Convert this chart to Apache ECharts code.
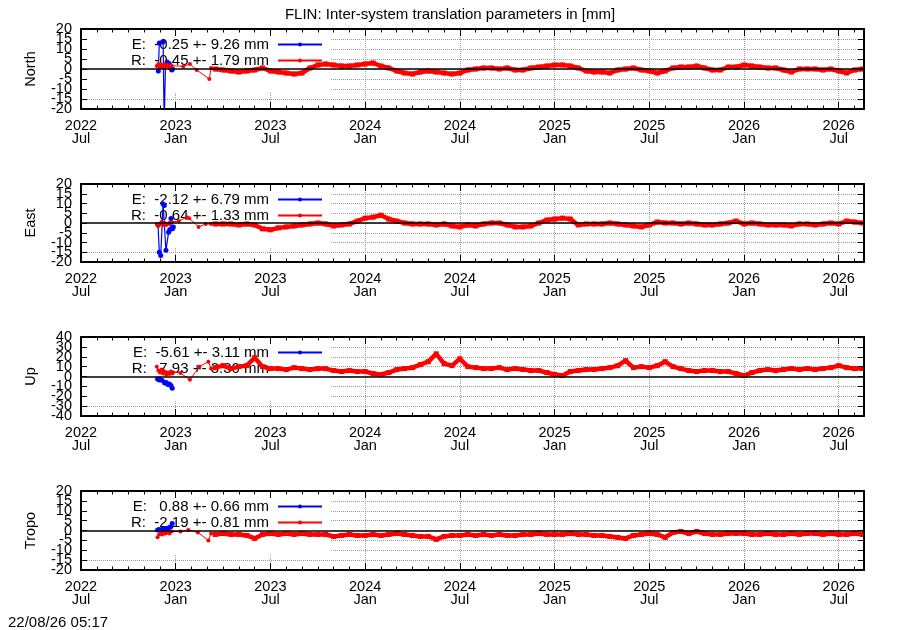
<!DOCTYPE html>
<html>
<head>
<meta charset="utf-8">
<title>FLIN inter-system translation parameters</title>
<script src="https://cdn.jsdelivr.net/npm/echarts@6/dist/echarts.min.js"></script>
<style>
html, body { margin: 0; padding: 0; background: #fff; }
#chart { width: 900px; height: 630px; }
</style>
</head>
<body>
<div id="chart"></div>
<script>
// x values are months counted from 2022-07-01
var xMax = 49.6;
var FONT = '"Liberation Sans", Arial, sans-serif';

var panelNames = ['North', 'East', 'Up', 'Tropo'];
var keyE = ['E:  -0.25 +- 9.26 mm', 'E:  -2.12 +- 6.79 mm', 'E:  -5.61 +- 3.11 mm', 'E:   0.88 +- 0.66 mm'];
var keyR = ['R:  -0.45 +- 1.79 mm', 'R:  -0.64 +- 1.33 mm', 'R:   7.93 +- 3.30 mm', 'R:  -2.19 +- 0.81 mm'];
var yLimit = [20, 20, 40, 20];
var yStep = [5, 5, 10, 5];

/* E solution (blue), only a few weeks at the start */
var northEX = [4.90, 4.96, 5.20, 5.27, 5.35, 5.45, 5.58, 5.67, 5.75, 5.80];
var northEY = [-1.0, 13.0, 13.5, -28.0, 1.5, 3.5, 2.8, 0.5, -0.5, 0.0];
var eastEX = [4.88, 4.96, 5.05, 5.20, 5.28, 5.38, 5.55, 5.62, 5.70, 5.80, 5.85];
var eastEY = [-1.0, -15.0, -16.7, 9.7, 9.0, -14.0, -4.7, -3.5, 2.3, -2.9, -2.0];
var upEX = [4.85, 4.95, 5.00, 5.15, 5.30, 5.40, 5.50, 5.60, 5.70, 5.78];
var upEY = [-2.5, -3.5, -2.5, -4.0, -6.5, -6.0, -8.0, -7.5, -9.0, -12.0];
var tropoEX = [4.85, 4.95, 5.05, 5.20, 5.35, 5.50, 5.60, 5.70, 5.78];
var tropoEY = [0.3, 0.5, 0.3, 0.8, 1.0, 1.0, 1.5, 2.0, 3.5];

/* R solution (red), sparse first months */
var northRX = [4.80, 4.90, 5.00, 5.10, 5.20, 5.30, 5.40, 5.50, 5.60, 5.74, 6.48, 6.90, 7.33, 8.13, 8.24];
var northRY = [1.5, 2.5, 1.0, 2.0, 1.0, 2.5, 1.5, 2.0, 1.0, 1.7, 1.3, 2.5, -0.5, -5.0, 0.5];
var eastRX = [4.80, 4.90, 5.00, 5.10, 5.20, 5.30, 5.40, 5.50, 5.60, 5.75, 6.20, 6.70, 6.85, 7.45, 7.90, 8.24];
var eastRY = [-0.5, -1.5, -0.5, 0.5, -1.0, 0.0, -1.0, -0.5, 0.0, 0.5, 1.0, 3.0, 2.5, -2.0, -0.5, -0.5];
var upRX = [4.80, 4.90, 5.00, 5.10, 5.20, 5.30, 5.40, 5.50, 5.60, 5.70, 5.80, 6.30, 6.90, 7.50, 8.07, 8.24];
var upRY = [10.0, 6.0, 4.0, 7.0, 3.0, 5.0, 2.0, 4.0, 2.5, 5.0, 3.0, 3.5, -3.3, 10.0, 15.0, 8.0];
var tropoRX = [4.85, 4.95, 5.05, 5.15, 5.25, 5.35, 5.50, 5.60, 5.75, 6.30, 6.80, 7.40, 8.07, 8.24];
var tropoRY = [-3.4, -2.0, -1.5, -2.0, -1.0, -1.5, -1.0, -1.5, -0.5, -0.5, 0.3, -1.0, -5.0, -1.5];

/* R solution (red), daily part read every half month from 8.5 on */
var denseStart = 8.5;
var denseStep = 0.5;
var northR = [
	0.0, -0.5, -1.0, -1.5, -1.0, -0.5, 0.5, -1.0, -1.5, -2.0,
	-2.5, -2.0, 0.5, 2.0, 2.5, 2.0, 1.5, 1.5, 2.0, 2.5,
	3.0, 1.5, 0.5, -1.0, -2.0, -2.5, -1.5, -1.0, -1.5, -2.0,
	-2.5, -2.0, -0.5, 0.0, 0.5, 0.5, 0.0, 0.5, -0.5, -0.5,
	0.5, 1.0, 1.5, 2.0, 2.0, 1.5, 0.5, -1.0, -1.5, -1.5,
	-2.0, -0.5, 0.0, 0.5, -0.5, -1.0, -2.0, -1.0, 0.5, 1.0,
	1.0, 1.5, 0.5, -0.5, -0.5, 1.0, 1.0, 2.0, 1.5, 1.0,
	0.5, 0.5, -0.5, -1.5, 0.0, 0.0, 0.0, -0.5, 0.0, -1.0,
	-2.0, -0.5, 0.0];
var eastR = [
	-0.5, -0.5, -0.5, -1.0, -0.5, -1.0, -3.0, -3.5, -2.5, -2.0,
	-1.5, -1.0, -0.5, 0.0, -0.5, -1.5, -1.0, -0.5, 1.0, 2.5,
	3.0, 4.0, 2.0, 1.0, 0.0, -0.5, -0.5, -0.5, -1.0, -0.5,
	-1.5, -2.0, -1.0, -1.5, -0.5, 0.0, 0.0, -1.0, -2.0, -2.0,
	-1.5, 0.0, 1.5, 2.0, 2.5, 2.0, -1.0, -0.5, -0.5, -0.5,
	0.0, -0.5, -1.0, -1.5, -2.0, -1.0, 0.5, 0.0, 0.0, -0.5,
	0.0, -0.5, -1.0, -1.0, -0.5, 0.0, 1.0, -0.5, 0.0, -0.5,
	-1.0, -1.0, -1.0, -1.5, -0.5, -0.5, -1.0, -0.5, 0.0, -0.5,
	1.0, 0.5, 0.0];
var upR = [
	9, 11, 8, 10, 11, 19, 10, 8, 8, 7,
	9, 8, 7, 8, 8, 6, 5, 6, 5, 5,
	3, 2, 4, 7, 8, 9, 12, 15, 23, 13,
	11, 18, 10, 9, 8, 8, 9, 7, 8, 7,
	6, 6, 4, 2, 1, 5, 6, 7, 7, 8,
	9, 11, 16, 9, 10, 9, 11, 15, 10, 8,
	6, 5, 6, 6, 5, 5, 3, 1, 4, 6,
	7, 6, 7, 8, 7, 8, 7, 8, 9, 11,
	9, 8, 8];
var tropoR = [
	-2.0, -1.5, -2.0, -2.0, -2.5, -4.0, -2.0, -1.5, -2.0, -1.5,
	-2.0, -1.5, -2.0, -2.0, -2.0, -3.0, -2.5, -2.0, -2.5, -2.5,
	-2.0, -2.5, -2.0, -1.5, -2.0, -2.5, -3.0, -3.0, -4.5, -3.0,
	-2.5, -2.5, -2.0, -2.5, -2.0, -2.5, -2.0, -2.5, -2.5, -2.0,
	-2.0, -1.5, -2.0, -2.0, -2.0, -1.5, -2.0, -2.0, -2.5, -2.5,
	-3.0, -3.5, -4.0, -2.5, -2.0, -1.5, -2.0, -3.5, -1.0, -0.5,
	-1.5, -0.5, -1.5, -2.0, -2.0, -1.5, -1.5, -1.5, -2.0, -2.0,
	-1.5, -2.0, -2.0, -1.5, -2.0, -1.5, -1.5, -2.0, -1.5, -2.0,
	-2.0, -1.5, -2.0];

var blueX = [northEX, eastEX, upEX, tropoEX];
var blueY = [northEY, eastEY, upEY, tropoEY];
var redX = [northRX, eastRX, upRX, tropoRX];
var redY = [northRY, eastRY, upRY, tropoRY];
var redDense = [northR, eastR, upR, tropoR];

var panelTop = [29, 184, 337, 491];
var panelHeight = [80, 78, 79, 79];

function pairs(xs, ys) {
	return xs.map(function(x, i) { return [x, ys[i]]; });
}

function densePairs(values) {
	return values.map(function(v, i) { return [denseStart + i * denseStep, v]; });
}

function monthLabel(v) {
	var m = Math.round(v);
	if (Math.abs(v - m) > 1e-6 || m % 6 !== 0) {
		return '';
	}
	var year = 2022 + Math.floor((m + 6) / 12);
	return year + '\n' + (m % 12 === 0 ? 'Jul' : 'Jan');
}

// gnuplot prints every y tick label even when they collide; split them over
// two axes so ECharts does not drop any of them
function everyOther(step, odd) {
	return function(v) {
		var k = Math.round(v / step);
		return (Math.abs(k % 2) === 1) === odd ? String(v) : '';
	};
}

function hidden(g, extra) {
	var a = {
		gridIndex : g,
		type : 'value',
		axisLine : { show : false, onZero : false },
		axisTick : { show : false },
		axisLabel : { show : false },
		splitLine : { show : false },
		z : 4
	};
	for (var k in extra) {
		a[k] = extra[k];
	}
	return a;
}

var blackLine = { show : true, onZero : false, lineStyle : { color : '#000', width : 2 } };
var dotted = { show : true, lineStyle : { type : 'dotted', color : '#9a9a9a', width : 1 } };

function tick(len) {
	return { show : true, inside : true, length : len, lineStyle : { color : '#000', width : 1 } };
}

function yLabel(step, odd) {
	return {
		show : true, margin : 9, fontSize : 14.5, color : '#000', fontFamily : FONT,
		formatter : everyOther(step, odd),
		showMinLabel : true, showMaxLabel : true, hideOverlap : false
	};
}

var grids = [], xAxes = [], yAxes = [], series = [], legends = [], rects = [];

for (var p = 0; p < 4; p++) {
	grids.push({ left : 81, right : 36, top : panelTop[p], height : panelHeight[p] });

	// 0: grid lines, 1: bottom with labels, 2: bottom minor, 3: top, 4: top minor
	xAxes.push(hidden(p, { position : 'bottom', min : 0, max : xMax, interval : 6, splitLine : dotted, z : 0 }));
	xAxes.push(hidden(p, {
		position : 'bottom', min : 0, max : xMax, interval : 6,
		axisLine : blackLine, axisTick : tick(7),
		axisLabel : {
			show : true, formatter : monthLabel, margin : 10, fontSize : 14.5, lineHeight : 13,
			color : '#000', fontFamily : FONT, showMaxLabel : false
		}
	}));
	xAxes.push(hidden(p, { position : 'bottom', min : 0, max : xMax, interval : 1, axisTick : tick(3.5) }));
	xAxes.push(hidden(p, { position : 'top', min : 0, max : xMax, interval : 6, axisLine : blackLine, axisTick : tick(7) }));
	xAxes.push(hidden(p, { position : 'top', min : 0, max : xMax, interval : 1, axisTick : tick(3.5) }));

	var lim = yLimit[p], st = yStep[p];
	// 0: grid lines, 1: left with even labels, 2: left odd labels, 3: right
	yAxes.push(hidden(p, { position : 'left', min : -lim, max : lim, interval : st, splitLine : dotted, z : 0 }));
	yAxes.push(hidden(p, {
		position : 'left', min : -lim, max : lim, interval : st,
		axisLine : blackLine, axisTick : tick(6),
		axisLabel : yLabel(st, false),
		name : panelNames[p], nameLocation : 'middle', nameRotate : 90, nameGap : 43,
		nameTextStyle : { fontSize : 14.5, color : '#000', fontFamily : FONT }
	}));
	yAxes.push(hidden(p, { position : 'left', min : -lim, max : lim, interval : st, axisLabel : yLabel(st, true) }));
	yAxes.push(hidden(p, { position : 'right', min : -lim, max : lim, interval : st, axisLine : blackLine, axisTick : tick(6) }));

	var xi = p * 5 + 1, yi = p * 4 + 1;
	series.push({
		name : keyE[p], type : 'line', xAxisIndex : xi, yAxisIndex : yi,
		data : pairs(blueX[p], blueY[p]),
		symbol : 'circle', symbolSize : 5, showSymbol : true,
		lineStyle : { color : '#0000ff', width : 1.2 }, itemStyle : { color : '#0000ff' },
		z : 3
	});
	var dense = densePairs(redDense[p]);
	series.push({
		name : keyR[p], type : 'line', xAxisIndex : xi, yAxisIndex : yi,
		data : pairs(redX[p], redY[p]).concat([dense[0]]),
		symbol : 'circle', symbolSize : 4, showSymbol : true,
		lineStyle : { color : '#ff0000', width : 1 }, itemStyle : { color : '#ff0000' },
		z : 3
	});
	series.push({
		name : keyR[p], type : 'line', xAxisIndex : xi, yAxisIndex : yi,
		data : dense,
		symbol : 'rect', symbolSize : 5, showSymbol : true,
		lineStyle : { color : '#ff0000', width : 4.5 }, itemStyle : { color : '#ff0000' },
		z : 3,
		markLine : {
			silent : true, symbol : 'none', animation : false,
			label : { show : false },
			lineStyle : { color : '#000', width : 1.5, type : 'solid' },
			data : [ { yAxis : 0 } ]
		}
	});

	legends.push({
		data : [ keyE[p], keyR[p] ],
		orient : 'vertical', align : 'right',
		right : 577, top : panelTop[p] + 8,
		itemWidth : 44, itemHeight : 5, itemGap : 1, padding : 0,
		selectedMode : false, z : 2,
		textStyle : { fontSize : 15, lineHeight : 15, color : '#000', fontFamily : FONT, padding : [0, 4, 0, 0] }
	});

	// the key box hides the grid behind it
	rects.push({
		type : 'rect', silent : true, z : 1,
		shape : { x : 83, y : panelTop[p] + 2, width : 247, height : 61 },
		style : { fill : '#fff' }
	});
}

var chart = echarts.init(document.getElementById('chart'));
chart.setOption({
	animation : false,
	backgroundColor : '#fff',
	title : [ {
		text : 'FLIN: Inter-system translation parameters in [mm]',
		left : 'center', top : 7, padding : 0,
		textStyle : { fontSize : 15, fontWeight : 'normal', color : '#000', fontFamily : FONT }
	}, {
		text : '22/08/26 05:17',
		left : 8, top : 615, padding : 0,
		textStyle : { fontSize : 15, fontWeight : 'normal', color : '#000', fontFamily : FONT }
	} ],
	legend : legends,
	grid : grids,
	xAxis : xAxes,
	yAxis : yAxes,
	graphic : rects,
	series : series
});
</script>
</body>
</html>
